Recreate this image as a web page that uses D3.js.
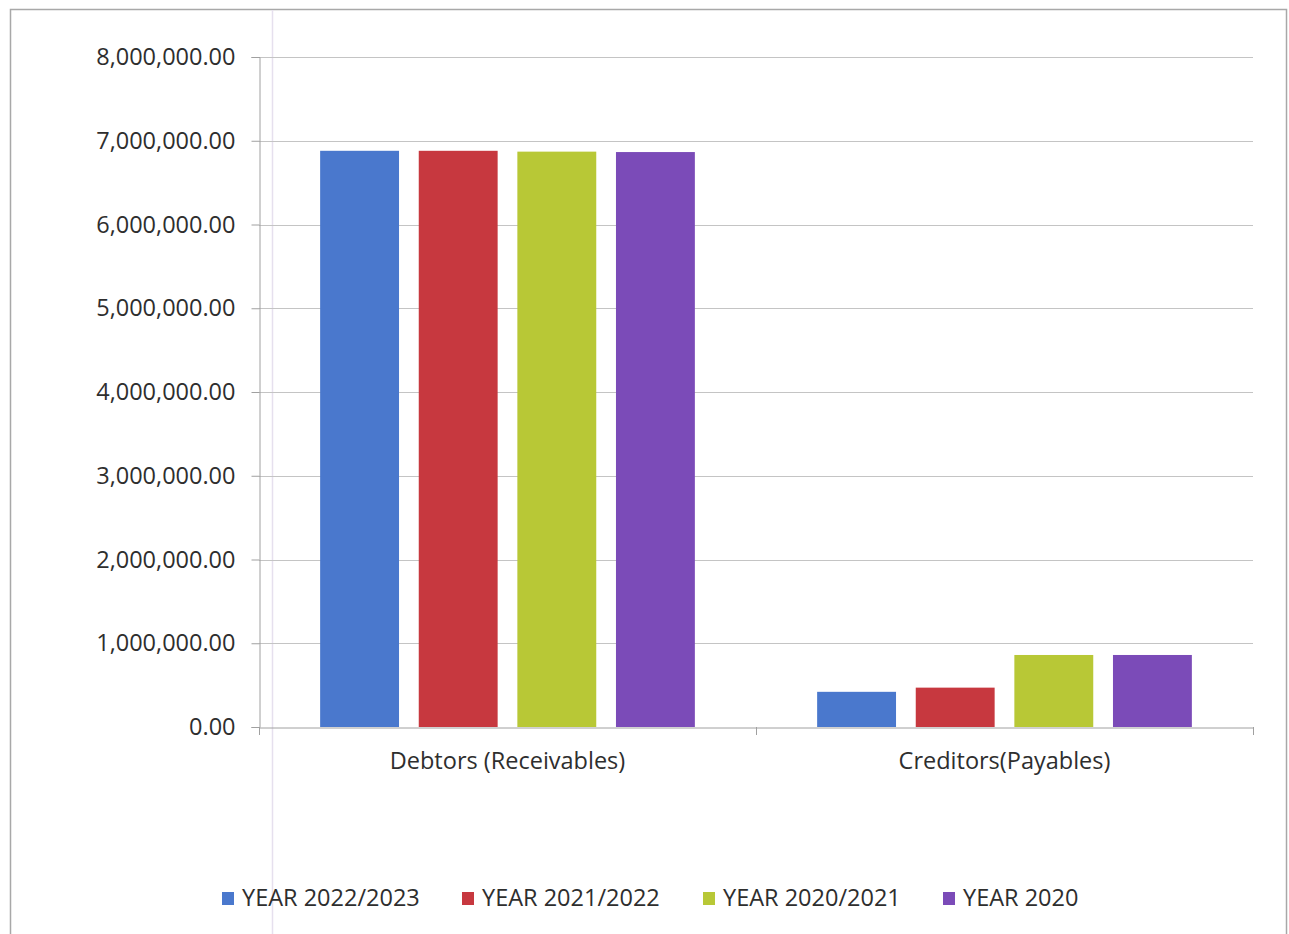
<!DOCTYPE html>
<html>
<head>
<meta charset="utf-8">
<script src="https://cdn.jsdelivr.net/npm/d3@7"></script>
<style>
  body { margin: 0; background: #fff; }
  text { font-family: "Open Sans", "Liberation Sans", sans-serif; fill: #2e2e2e; }
</style>
</head>
<body>
<div class="content"></div>
<script>
//--> Data
const categories = ["Debtors (Receivables)", "Creditors(Payables)"];
const seriesNames = ["YEAR 2022/2023", "YEAR 2021/2022", "YEAR 2020/2021", "YEAR 2020"];
const seriesColors = ["#4a78cd", "#c7383f", "#b8c836", "#7b4bb8"];
const debtorsValues = [6880000, 6880000, 6870000, 6865000];
const creditorsValues = [420000, 470000, 860000, 860000];
const yTicks = [0, 1000000, 2000000, 3000000, 4000000, 5000000, 6000000, 7000000, 8000000];

//--> Set up main elements
const width = 1289;
const height = 934;
const margin = { top: 57, right: 36, bottom: 207, left: 259 };
const fontSize = "23.5px";

const svg = d3
  .select(".content")
  .append("svg")
  .attr("width", width)
  .attr("height", height);

// outer frame
svg
  .append("rect")
  .attr("x", 10.5)
  .attr("y", 9.5)
  .attr("width", 1276)
  .attr("height", 930)
  .attr("fill", "none")
  .attr("stroke", "#a8a8a8")
  .attr("stroke-width", 1.5);

// faint scan line
svg
  .append("line")
  .attr("x1", 272.5)
  .attr("x2", 272.5)
  .attr("y1", 10)
  .attr("y2", height)
  .attr("stroke", "#e6e0ee")
  .attr("stroke-width", 1.5);

const data = categories.map((c, i) => ({
  category: c,
  values: (i === 0 ? debtorsValues : creditorsValues).map((v, j) => ({
    series: seriesNames[j],
    value: v,
  })),
}));

//--> Scales
const x0 = d3
  .scaleBand()
  .domain(categories)
  .range([margin.left, width - margin.right]);

const x1 = d3
  .scaleBand()
  .domain(seriesNames)
  .range([0, x0.bandwidth()])
  .paddingInner(0.2)
  .paddingOuter(0.62);

const y = d3
  .scaleLinear()
  .domain([0, 8000000])
  .range([height - margin.bottom, margin.top]);

const fmt = d3.format(",.2f");

//--> Gridlines
svg
  .append("g")
  .selectAll("line")
  .data(yTicks.slice(1))
  .join("line")
  .attr("x1", margin.left)
  .attr("x2", width - margin.right)
  .attr("y1", d => Math.round(y(d)) + 0.5)
  .attr("y2", d => Math.round(y(d)) + 0.5)
  .attr("stroke", "#c4c4c4")
  .attr("stroke-width", 1.2);

//--> Y axis
const yAxis = svg
  .append("g")
  .attr("transform", `translate(${margin.left + 0.5},0)`)
  .call(
    d3.axisLeft(y).tickValues(yTicks).tickFormat(fmt).tickSize(8).tickPadding(16)
  );
yAxis.select(".domain").attr("stroke", "#a0a0a0");
yAxis.selectAll(".tick line").attr("stroke", "#a0a0a0");
yAxis
  .selectAll(".tick text")
  .style("font-size", fontSize)
  .style("font-family", "'Open Sans', sans-serif")
  .attr("fill", "#2e2e2e");

//--> X axis
const xAxis = svg
  .append("g")
  .attr("transform", `translate(0,${Math.round(y(0)) + 0.5})`)
  .call(d3.axisBottom(x0).tickSize(0).tickPadding(25));
xAxis.select(".domain").attr("stroke", "#a0a0a0");
xAxis
  .selectAll(".tick text")
  .style("font-size", fontSize)
  .style("font-family", "'Open Sans', sans-serif")
  .attr("fill", "#2e2e2e");

// category separator ticks
svg
  .append("g")
  .selectAll("line")
  .data([x0.range()[0], x0(categories[1]), x0.range()[1]])
  .join("line")
  .attr("x1", d => Math.round(d) + 0.5)
  .attr("x2", d => Math.round(d) + 0.5)
  .attr("y1", y(0))
  .attr("y2", y(0) + 8)
  .attr("stroke", "#a0a0a0");

//--> Bars
svg
  .append("g")
  .selectAll("g")
  .data(data)
  .join("g")
  .attr("transform", d => `translate(${x0(d.category)},0)`)
  .selectAll("rect")
  .data(d => d.values)
  .join("rect")
  .attr("x", d => x1(d.series))
  .attr("width", x1.bandwidth())
  .attr("y", d => y(d.value))
  .attr("height", d => y(0) - y(d.value))
  .attr("fill", (d, i) => seriesColors[i]);

//--> Legend
const legendX = [222, 462, 703, 943];
const legend = svg.append("g").attr("transform", "translate(0,898)");

const legendItem = legend
  .selectAll("g")
  .data(seriesNames)
  .join("g")
  .attr("transform", (_, i) => `translate(${legendX[i]},0)`);

legendItem
  .append("rect")
  .attr("x", 0)
  .attr("y", -6)
  .attr("width", 12)
  .attr("height", 13)
  .attr("fill", (_, i) => seriesColors[i]);

legendItem
  .append("text")
  .attr("x", 20)
  .attr("y", 8)
  .style("font-size", fontSize)
  .text(d => d);
</script>
</body>
</html>
